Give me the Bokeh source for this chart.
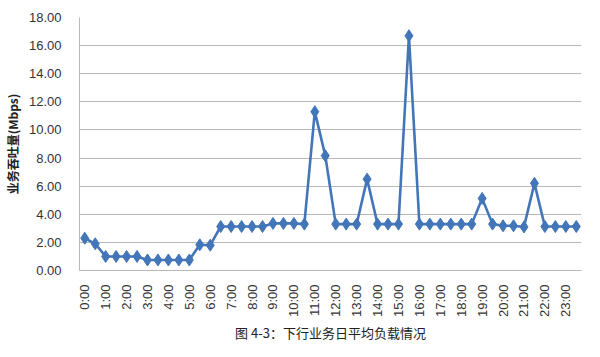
import math
from bokeh.plotting import figure
from bokeh.models import ColumnDataSource, FixedTicker, Title, NumeralTickFormatter
from bokeh.embed import file_html
from bokeh.resources import INLINE

times = [f"{h}:{m:02d}" for h in range(24) for m in (0, 30)]
throughput = [2.3, 1.9, 1.0, 1.0, 1.0, 1.0, 0.75, 0.75, 0.75, 0.75, 0.75, 1.83,
              1.8, 3.13, 3.13, 3.13, 3.13, 3.13, 3.35, 3.35, 3.35, 3.3, 11.3, 8.17,
              3.3, 3.3, 3.3, 6.5, 3.3, 3.3, 3.3, 16.7, 3.3, 3.3, 3.3, 3.3,
              3.3, 3.3, 5.13, 3.3, 3.18, 3.18, 3.1, 6.2, 3.13, 3.13, 3.13, 3.13]
hour_labels = [f"{h}:00" for h in range(24)]
y_ticks = [0, 2, 4, 6, 8, 10, 12, 14, 16, 18]

idx = list(range(len(times)))
src = ColumnDataSource(dict(x=idx, y=throughput, t=times))

p = figure(width=584, height=341, output_backend="svg", toolbar_location=None,
           x_range=(-0.5, len(times) - 0.5), y_range=(0, 18),
           min_border_left=67, min_border_right=3, min_border_top=17, min_border_bottom=10)
p.outline_line_color = None
p.background_fill_color = "white"

p.line("x", "y", source=src, line_color="#4375B9", line_width=2.6)
p.scatter("x", "y", source=src, marker="diamond", size=12, fill_color="#4375B9",
          line_color="#4375B9")

# x axis
even = [i for i in idx if i % 2 == 0]
p.xaxis.ticker = FixedTicker(ticks=even)
p.xaxis.major_label_overrides = {i: hour_labels[i // 2] for i in even}
p.xaxis.major_label_orientation = math.pi / 2
p.xaxis.major_tick_line_color = None
p.xaxis.minor_tick_line_color = None
p.xaxis.axis_line_color = "#B8B8B8"
p.xaxis.major_label_text_font = "Liberation Sans"
p.xaxis.major_label_text_font_size = "13px"
p.xaxis.major_label_text_color = "#333333"
p.xaxis.major_label_standoff = 8
p.xgrid.grid_line_color = None

# y axis
p.yaxis.ticker = FixedTicker(ticks=y_ticks)
p.yaxis.formatter = NumeralTickFormatter(format="0.00")
p.yaxis.major_tick_line_color = None
p.yaxis.minor_tick_line_color = None
p.yaxis.axis_line_color = "#B8B8B8"
p.yaxis.major_label_text_font = "Liberation Sans"
p.yaxis.major_label_text_font_size = "13px"
p.yaxis.major_label_text_color = "#333333"
p.yaxis.major_label_standoff = 12
p.yaxis.axis_label = "业务吞吐量(Mbps)"
p.yaxis.axis_label_text_font = "Noto Sans CJK SC"
p.yaxis.axis_label_text_font_style = "bold"
p.yaxis.axis_label_text_font_size = "12px"
p.yaxis.axis_label_text_color = "#222222"
p.yaxis.axis_label_standoff = 5
p.ygrid.grid_line_color = "#B8B8B8"
p.ygrid.grid_line_width = 1

cap = Title(text="图 4-3：下行业务日平均负载情况", align="center",
            text_font="Noto Sans CJK SC", text_font_size="13px",
            text_font_style="normal", text_color="#222222", offset=0, standoff=0)
p.add_layout(cap, "below")

open("out.html", "w").write(file_html(p, INLINE))
